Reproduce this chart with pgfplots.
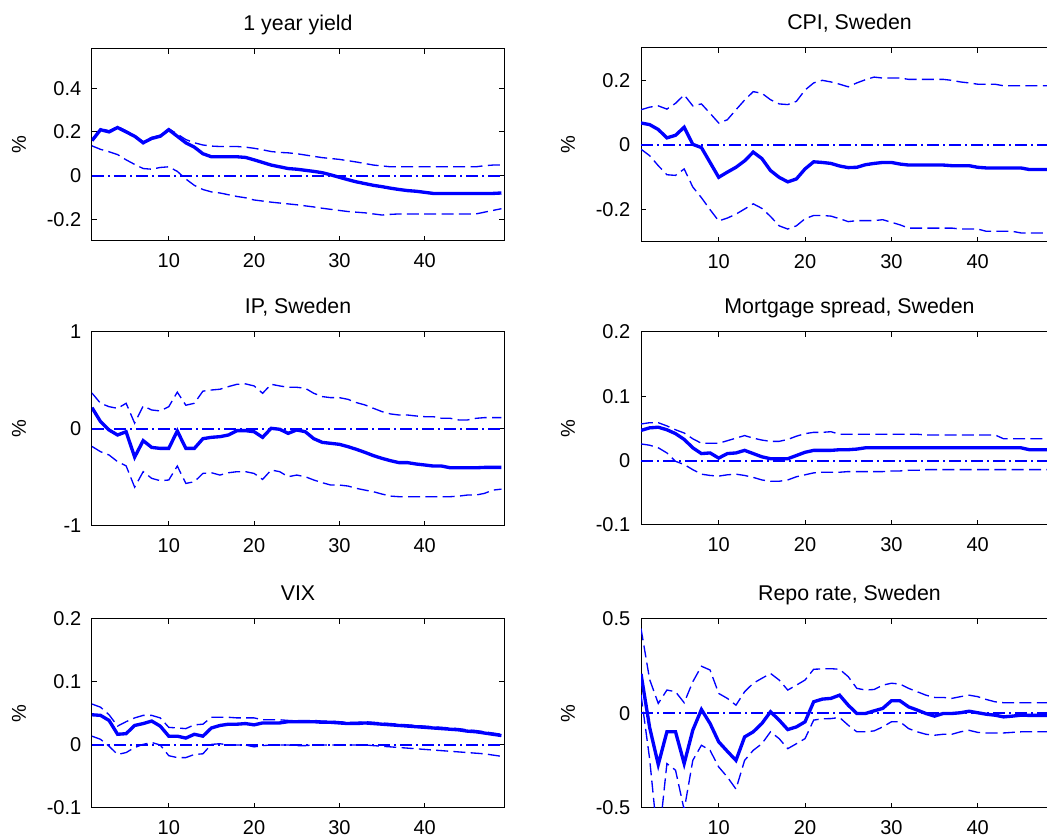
\documentclass[border=0pt]{standalone}
\usepackage{fontspec}
\setmainfont{Liberation Sans}
\usepackage{pgfplots}
\pgfplotsset{compat=1.18}
\usepackage{pgfplotstable}

\definecolor{mblue}{RGB}{0,0,255}

% columns: horizon, median, upper band, lower band
\pgfplotstableread{
t m hi lo
1 0.160 0.165 0.136
2 0.210 0.215 0.120
3 0.200 0.205 0.109
4 0.220 0.225 0.096
5 0.200 0.205 0.072
6 0.180 0.185 0.051
7 0.150 0.155 0.032
8 0.170 0.175 0.029
9 0.180 0.185 0.037
10 0.210 0.215 0.040
11 0.180 0.190 0.019
12 0.150 0.165 -0.016
13 0.130 0.150 -0.045
14 0.100 0.140 -0.064
15 0.086 0.135 -0.075
16 0.086 0.133 -0.080
17 0.086 0.133 -0.088
18 0.086 0.133 -0.096
19 0.083 0.130 -0.102
20 0.072 0.125 -0.112
21 0.060 0.118 -0.117
22 0.048 0.110 -0.122
23 0.040 0.106 -0.126
24 0.032 0.104 -0.130
25 0.029 0.100 -0.134
26 0.024 0.094 -0.139
27 0.019 0.088 -0.144
28 0.013 0.082 -0.150
29 0.003 0.078 -0.155
30 -0.008 0.074 -0.160
31 -0.019 0.068 -0.165
32 -0.029 0.062 -0.168
33 -0.037 0.055 -0.171
34 -0.045 0.048 -0.176
35 -0.051 0.044 -0.181
36 -0.058 0.040 -0.178
37 -0.064 0.040 -0.176
38 -0.069 0.040 -0.176
39 -0.072 0.040 -0.176
40 -0.077 0.040 -0.176
41 -0.082 0.040 -0.176
42 -0.082 0.040 -0.176
43 -0.082 0.040 -0.176
44 -0.082 0.040 -0.176
45 -0.082 0.040 -0.176
46 -0.082 0.040 -0.176
47 -0.082 0.045 -0.168
48 -0.082 0.048 -0.160
49 -0.080 0.048 -0.152
}\yieldtab

\pgfplotstableread{
t m hi lo
1 0.068 0.109 -0.013
2 0.063 0.117 -0.033
3 0.048 0.121 -0.064
4 0.022 0.111 -0.092
5 0.030 0.129 -0.094
6 0.055 0.155 -0.074
7 0.002 0.121 -0.130
8 -0.008 0.127 -0.163
9 -0.054 0.098 -0.200
10 -0.100 0.068 -0.235
11 -0.084 0.078 -0.226
12 -0.069 0.109 -0.214
13 -0.049 0.139 -0.198
14 -0.022 0.165 -0.182
15 -0.042 0.160 -0.196
16 -0.079 0.140 -0.221
17 -0.100 0.127 -0.250
18 -0.114 0.125 -0.260
19 -0.105 0.135 -0.250
20 -0.074 0.170 -0.228
21 -0.052 0.192 -0.218
22 -0.054 0.200 -0.218
23 -0.057 0.195 -0.220
24 -0.065 0.188 -0.228
25 -0.070 0.180 -0.237
26 -0.069 0.192 -0.234
27 -0.061 0.202 -0.234
28 -0.057 0.210 -0.234
29 -0.054 0.207 -0.231
30 -0.054 0.207 -0.239
31 -0.059 0.207 -0.247
32 -0.062 0.203 -0.257
33 -0.062 0.203 -0.257
34 -0.062 0.203 -0.257
35 -0.062 0.203 -0.257
36 -0.062 0.203 -0.257
37 -0.064 0.200 -0.257
38 -0.064 0.195 -0.260
39 -0.064 0.192 -0.260
40 -0.069 0.188 -0.260
41 -0.071 0.188 -0.267
42 -0.071 0.188 -0.267
43 -0.071 0.183 -0.267
44 -0.071 0.183 -0.267
45 -0.071 0.183 -0.272
46 -0.076 0.183 -0.272
47 -0.076 0.183 -0.272
48 -0.076 0.183 -0.272
49 -0.076 0.183 -0.272
}\cpitab

\pgfplotstableread{
t m hi lo
1 0.220 0.370 -0.180
2 0.076 0.265 -0.234
3 -0.010 0.230 -0.268
4 -0.062 0.213 -0.337
5 -0.028 0.265 -0.380
6 -0.290 0.060 -0.600
7 -0.120 0.237 -0.440
8 -0.190 0.196 -0.509
9 -0.200 0.186 -0.533
10 -0.200 0.230 -0.526
11 -0.020 0.380 -0.382
12 -0.200 0.245 -0.561
13 -0.200 0.265 -0.544
14 -0.100 0.390 -0.458
15 -0.086 0.402 -0.451
16 -0.079 0.410 -0.475
17 -0.062 0.437 -0.451
18 -0.017 0.461 -0.440
19 -0.017 0.465 -0.440
20 -0.028 0.444 -0.458
21 -0.086 0.368 -0.520
22 0.007 0.461 -0.423
23 -0.003 0.444 -0.440
24 -0.045 0.430 -0.492
25 -0.010 0.430 -0.475
26 -0.028 0.420 -0.492
27 -0.100 0.368 -0.526
28 -0.138 0.334 -0.554
29 -0.148 0.323 -0.578
30 -0.158 0.323 -0.578
31 -0.182 0.306 -0.588
32 -0.210 0.272 -0.612
33 -0.241 0.248 -0.630
34 -0.275 0.213 -0.647
35 -0.303 0.179 -0.671
36 -0.327 0.155 -0.692
37 -0.347 0.144 -0.698
38 -0.347 0.144 -0.698
39 -0.361 0.134 -0.698
40 -0.371 0.127 -0.698
41 -0.382 0.127 -0.698
42 -0.382 0.110 -0.698
43 -0.400 0.110 -0.698
44 -0.400 0.093 -0.692
45 -0.400 0.093 -0.681
46 -0.400 0.110 -0.681
47 -0.396 0.117 -0.664
48 -0.396 0.117 -0.630
49 -0.396 0.117 -0.620
}\iptab

\pgfplotstableread{
t m hi lo
1 0.047 0.057 0.026
2 0.051 0.059 0.024
3 0.052 0.059 0.020
4 0.048 0.054 0.012
5 0.042 0.048 -0.001
6 0.033 0.043 -0.006
7 0.020 0.034 -0.014
8 0.011 0.027 -0.021
9 0.012 0.027 -0.023
10 0.004 0.027 -0.024
11 0.011 0.031 -0.022
12 0.012 0.035 -0.021
13 0.016 0.039 -0.023
14 0.011 0.035 -0.026
15 0.006 0.032 -0.030
16 0.003 0.030 -0.032
17 0.003 0.030 -0.032
18 0.003 0.033 -0.030
19 0.008 0.038 -0.025
20 0.013 0.042 -0.022
21 0.016 0.044 -0.019
22 0.016 0.044 -0.018
23 0.016 0.045 -0.018
24 0.017 0.041 -0.018
25 0.017 0.041 -0.017
26 0.018 0.041 -0.017
27 0.020 0.041 -0.017
28 0.020 0.041 -0.017
29 0.020 0.041 -0.017
30 0.020 0.041 -0.016
31 0.020 0.041 -0.016
32 0.020 0.041 -0.015
33 0.020 0.041 -0.015
34 0.020 0.040 -0.014
35 0.020 0.040 -0.014
36 0.020 0.040 -0.014
37 0.020 0.040 -0.014
38 0.020 0.040 -0.014
39 0.020 0.040 -0.014
40 0.020 0.040 -0.014
41 0.020 0.040 -0.014
42 0.020 0.040 -0.014
43 0.020 0.034 -0.014
44 0.020 0.034 -0.014
45 0.020 0.034 -0.014
46 0.017 0.034 -0.014
47 0.017 0.034 -0.014
48 0.017 0.034 -0.014
49 0.017 0.034 -0.014
}\mortab

\pgfplotstableread{
t m hi lo
1 0.048 0.065 0.014
2 0.047 0.060 0.009
3 0.039 0.048 -0.002
4 0.017 0.030 -0.015
5 0.018 0.037 -0.012
6 0.031 0.043 -0.004
7 0.034 0.047 0.001
8 0.038 0.047 0.004
9 0.030 0.043 0.000
10 0.014 0.028 -0.017
11 0.014 0.027 -0.020
12 0.011 0.026 -0.020
13 0.017 0.032 -0.015
14 0.014 0.033 -0.014
15 0.027 0.044 0.001
16 0.031 0.044 0.002
17 0.033 0.044 0.000
18 0.033 0.043 0.000
19 0.034 0.043 0.000
20 0.032 0.043 -0.003
21 0.035 0.040 -0.001
22 0.035 0.040 0.000
23 0.035 0.040 0.000
24 0.037 0.039 0.000
25 0.037 0.039 -0.001
26 0.037 0.039 -0.001
27 0.037 0.039 0.000
28 0.036 0.038 0.000
29 0.036 0.038 0.000
30 0.035 0.037 0.000
31 0.034 0.036 0.000
32 0.034 0.036 0.000
33 0.035 0.037 0.000
34 0.034 0.036 -0.001
35 0.033 0.035 -0.002
36 0.032 0.034 -0.003
37 0.031 0.033 -0.004
38 0.030 0.032 -0.005
39 0.029 0.031 -0.006
40 0.028 0.030 -0.007
41 0.027 0.029 -0.008
42 0.026 0.028 -0.009
43 0.025 0.027 -0.010
44 0.024 0.026 -0.011
45 0.022 0.024 -0.012
46 0.021 0.023 -0.013
47 0.019 0.021 -0.014
48 0.017 0.019 -0.016
49 0.015 0.017 -0.018
}\vixtab

\pgfplotstableread{
t m hi lo
1 0.210 0.450 0.100
2 -0.074 0.180 -0.240
3 -0.270 0.053 -0.700
4 -0.097 0.124 -0.265
5 -0.097 0.115 -0.300
6 -0.265 0.057 -0.510
7 -0.088 0.168 -0.248
8 0.021 0.250 -0.168
9 -0.053 0.230 -0.195
10 -0.150 0.106 -0.283
11 -0.200 0.080 -0.336
12 -0.248 0.044 -0.400
13 -0.124 0.115 -0.248
14 -0.097 0.160 -0.195
15 -0.053 0.186 -0.160
16 0.009 0.212 -0.097
17 -0.035 0.177 -0.133
18 -0.085 0.124 -0.186
19 -0.071 0.150 -0.160
20 -0.044 0.177 -0.133
21 0.062 0.234 -0.035
22 0.076 0.236 -0.028
23 0.080 0.237 -0.027
24 0.097 0.234 -0.021
25 0.044 0.195 -0.062
26 0.000 0.133 -0.097
27 0.000 0.124 -0.097
28 0.014 0.127 -0.092
29 0.027 0.150 -0.071
30 0.067 0.160 -0.044
31 0.067 0.156 -0.044
32 0.035 0.133 -0.080
33 0.018 0.115 -0.097
34 0.000 0.097 -0.110
35 -0.014 0.085 -0.115
36 0.000 0.085 -0.110
37 0.000 0.080 -0.110
38 0.004 0.089 -0.097
39 0.012 0.097 -0.089
40 0.004 0.089 -0.100
41 -0.004 0.074 -0.103
42 -0.009 0.062 -0.103
43 -0.018 0.057 -0.103
44 -0.014 0.057 -0.100
45 -0.009 0.057 -0.097
46 -0.010 0.057 -0.097
47 -0.010 0.057 -0.097
48 -0.010 0.057 -0.097
49 -0.010 0.057 -0.097
}\repotab

\pgfplotsset{
  irf/.style={
    scale only axis,
    height=144pt,
    xmin=1, xmax=49.3,
    xtick={10,20,30,40},
    xticklabels={10,20,30,40},
    tick align=inside,
    major tick length=3.75pt,
    every tick/.style={black,line width=0.75pt},
    axis line style={line width=0.75pt},
    tick label style={font=\fontsize{15}{18}\selectfont},
    xticklabel style={yshift=-6pt},
    yticklabel style={xshift=-4.5pt},
    title style={at={(axis description cs:0.5,1)},anchor=base,yshift=8pt,
      font=\fontsize{16}{19}\selectfont},
    ylabel={\%},
    % the label is already turned by 90 degrees: yshift moves it to the left
    ylabel style={at={(axis description cs:0,0.5)},anchor=center,
      yshift=54.75pt,font=\fontsize{15}{18}\selectfont},
    clip=true,
  },
  irfleft/.style={irf,width=309pt},
  irfright/.style={irf,width=312.75pt},
  zeroline/.style={draw=mblue,line width=1.5pt,dash pattern=on 9pt off 3pt on 1.5pt off 3pt},
  band/.style={draw=mblue,line width=1pt,dash pattern=on 9pt off 4pt},
  median/.style={draw=mblue,line width=2.5pt},
}

\newcommand{\irfplots}[1]{%
  \addplot[zeroline] coordinates {(1,0) (49.3,0)};
  \addplot[band] table[x=t,y=hi] {#1};
  \addplot[band] table[x=t,y=lo] {#1};
  \addplot[median] table[x=t,y=m] {#1};
}

\begin{document}
\begin{tikzpicture}

\begin{axis}[irfleft, at={(69pt,447.75pt)}, anchor=south west,
  title={1 year yield}, ymin=-0.3, ymax=0.58,
  ytick={-0.2,0,0.2,0.4}, yticklabels={-0.2,0,0.2,0.4}]
\irfplots{\yieldtab}
\end{axis}

\begin{axis}[irfright, at={(480.75pt,447pt)}, anchor=south west, height=145.5pt,
  title={CPI, Sweden}, ymin=-0.3, ymax=0.3,
  ytick={-0.2,0,0.2}, yticklabels={-0.2,0,0.2}]
\irfplots{\cpitab}
\end{axis}

\begin{axis}[irfleft, at={(69pt,234pt)}, anchor=south west, height=145.5pt,
  title={IP, Sweden}, ymin=-1, ymax=1,
  ytick={-1,0,1}, yticklabels={-1,0,1}]
\irfplots{\iptab}
\end{axis}

\begin{axis}[irfright, at={(480.75pt,234.75pt)}, anchor=south west, height=144.75pt,
  title={Mortgage spread, Sweden}, ymin=-0.1, ymax=0.2,
  ytick={-0.1,0,0.1,0.2}, yticklabels={-0.1,0,0.1,0.2}]
\irfplots{\mortab}
\end{axis}

\begin{axis}[irfleft, at={(69pt,22.5pt)}, anchor=south west, height=141.75pt,
  title={VIX}, ymin=-0.1, ymax=0.2,
  ytick={-0.1,0,0.1,0.2}, yticklabels={-0.1,0,0.1,0.2}]
\irfplots{\vixtab}
\end{axis}

\begin{axis}[irfright, at={(480.75pt,22.5pt)}, anchor=south west, height=141.75pt,
  title={Repo rate, Sweden}, ymin=-0.5, ymax=0.5,
  ytick={-0.5,0,0.5}, yticklabels={-0.5,0,0.5}]
\irfplots{\repotab}
\end{axis}

\pgfresetboundingbox
\useasboundingbox (0,0) rectangle (785.25pt,628.5pt);
\end{tikzpicture}
\end{document}
